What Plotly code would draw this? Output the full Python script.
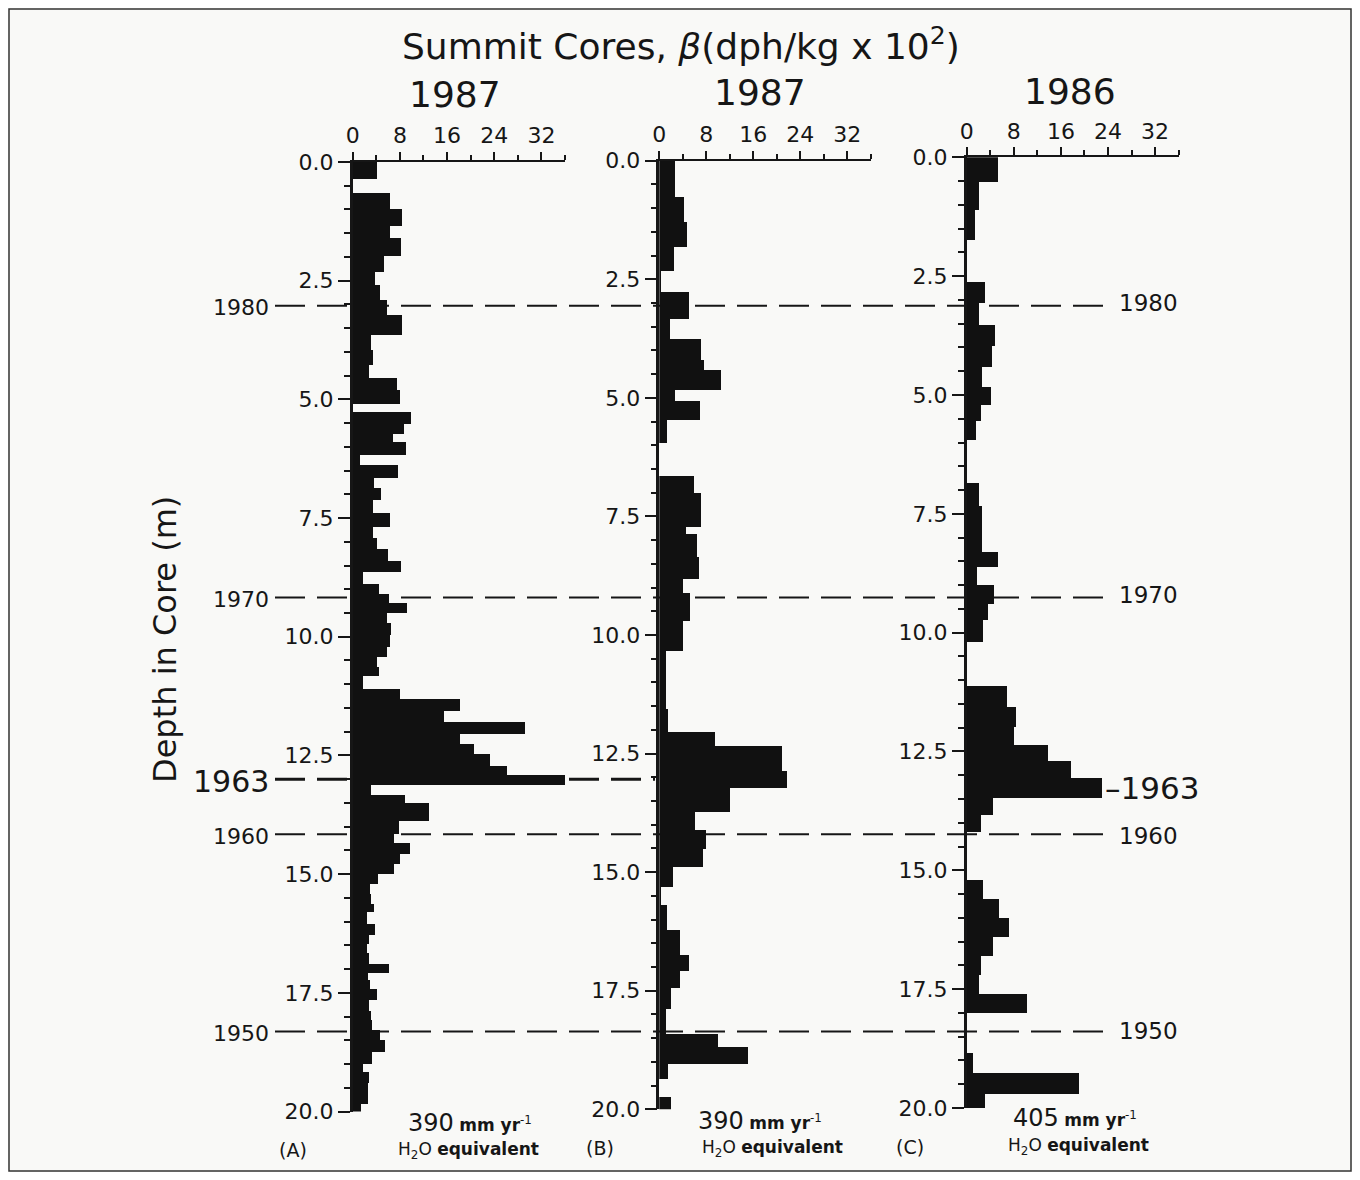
import plotly.graph_objects as go

# The page adds an 8px body margin, so the figure is drawn 8px in from the
# window edge; positions below are window pixels and are converted accordingly.
OFF = 8
W, H = 1360 - 2 * OFF, 1180 - 2 * OFF

# ---------------- data ----------------
core_titles = ["1987", "1987", "1986"]
panel_letters = ["(A)", "(B)", "(C)"]
accum_rates = ["390", "390", "405"]

# Core A: depth boundaries (m) and beta values (dph/kg x 10^2) for each interval
a_edges = [0.0, 0.35, 0.65, 1.0, 1.35, 1.6, 1.97, 2.31, 2.6, 2.91, 3.22, 3.65, 3.96, 4.28,
           4.54, 4.8, 5.1, 5.26, 5.51, 5.72, 5.9, 6.17, 6.39, 6.65, 6.86, 7.12, 7.4, 7.69,
           7.93, 8.16, 8.4, 8.63, 8.89, 9.09, 9.29, 9.5, 9.71, 9.97, 10.21, 10.43, 10.64,
           10.83, 11.09, 11.32, 11.56, 11.8, 12.04, 12.25, 12.48, 12.73, 12.92, 13.13,
           13.34, 13.5, 13.89, 14.15, 14.35, 14.57, 14.78, 14.99, 15.2, 15.41, 15.62, 15.8,
           16.05, 16.29, 16.48, 16.66, 16.89, 17.09, 17.24, 17.42, 17.65, 17.88, 18.08,
           18.28, 18.5, 18.75, 18.99, 19.17, 19.4, 19.66, 19.85, 20.0]
a_vals = [4.1, 0, 6.3, 8.3, 6.2, 8.2, 5.3, 3.7, 4.6, 5.8, 8.3, 3.1, 3.4, 2.7,
          7.4, 7.9, 0, 9.9, 8.6, 6.8, 9.0, 1.2, 7.6, 3.5, 4.8, 3.4, 6.2, 3.4,
          4.0, 6.0, 8.2, 1.7, 4.4, 6.1, 9.1, 5.7, 6.5, 6.3, 5.7, 4.1,
          4.4, 1.7, 8.0, 18.2, 15.4, 29.2, 18.1, 20.5, 23.3, 26.1, 36.0,
          3.1, 8.9, 12.9, 7.8, 6.9, 9.7, 7.9, 6.9, 4.2, 2.8, 3.1, 3.5,
          2.3, 3.8, 2.7, 2.3, 2.7, 6.1, 2.5, 2.8, 4.1, 2.7, 3.0,
          3.2, 4.6, 5.5, 3.2, 1.7, 2.7, 2.5, 2.5, 1.4]

# Core B
b_edges = [0.0, 0.76, 1.29, 1.81, 2.32, 2.76, 3.34, 3.76, 4.2, 4.4, 4.82, 5.07, 5.46,
           5.94, 6.64, 7.0, 7.72, 7.87, 8.34, 8.82, 9.1, 9.69, 10.33, 11.55, 12.04,
           12.34, 12.86, 13.21, 13.73, 14.1, 14.5, 14.89, 15.3, 15.69, 16.22, 16.75,
           17.07, 17.43, 17.87, 18.4, 18.68, 19.03, 19.35, 19.73, 20.0]
b_vals = [2.8, 4.2, 4.7, 2.6, 0.3, 5.1, 1.9, 7.2, 7.6, 10.6, 2.8, 6.9,
          1.4, 0, 5.9, 7.1, 4.6, 6.4, 6.8, 4.0, 5.3, 4.0, 1.2, 1.5,
          9.5, 20.9, 21.8, 12.1, 6.1, 8.0, 7.5, 2.3, 0.4, 1.4, 3.5,
          5.1, 3.6, 2.1, 1.2, 10.0, 15.1, 1.5, 0, 2.1]

# Core C
c_edges = [0.0, 0.53, 1.12, 1.74, 2.64, 3.07, 3.53, 3.97, 4.41, 4.83, 5.21, 5.55, 5.95,
           6.85, 7.34, 8.3, 8.62, 9.0, 9.4, 9.75, 10.2, 11.13, 11.57, 12.0, 12.38, 12.7,
           13.07, 13.49, 13.85, 14.2, 15.2, 15.6, 16.0, 16.4, 16.8, 17.2, 17.6, 18.0,
           18.84, 19.26, 19.72, 20.0]
c_vals = [5.3, 2.0, 1.4, 0, 3.1, 2.1, 4.8, 4.2, 2.5, 4.0, 2.3, 1.6,
          0, 2.1, 2.5, 5.2, 1.7, 4.6, 3.5, 2.8, 0, 6.8, 8.4, 7.9, 13.8,
          17.6, 23.0, 4.5, 2.3, 0, 2.8, 5.4, 7.1, 4.5, 2.3, 2.1, 10.2,
          0, 1.1, 19.0, 3.1]

# Dated horizons (year, depth in m)
horizon_years = ["1980", "1970", "1963", "1960", "1950"]
horizon_depths = [3.06, 9.21, 13.04, 14.2, 18.36]
# Labels on the right of core C
c_label_years = ["1980", "1970", "–1963", "1960", "1950"]
c_label_depths = [3.07, 9.21, 13.26, 14.27, 18.37]

x_tick0, x_dtick, x_max = 0, 8, 36
y_max = 20

# ---------------- layout geometry (window pixels) ----------------
panels_px = [
    dict(x0=352.7, x1=565.0, y0=162.0, y1=1111.5),
    dict(x0=659.3, x1=870.8, y0=160.7, y1=1109.3),
    dict(x0=966.7, x1=1178.6, y0=157.3, y1=1108.0),
]


def px(x):
    return (x - OFF) / W


def py(y):
    return 1 - (y - OFF) / H


FONT = "'DejaVu Sans', Verdana, sans-serif"
INK = "#161616"

fig = go.Figure()
layout = dict(
    template="none",
    width=W, height=H, margin=dict(l=0, r=0, t=0, b=0, pad=0, autoexpand=False),
    paper_bgcolor="#f9f9f7", plot_bgcolor="rgba(0,0,0,0)",
    showlegend=False, font=dict(family=FONT, color=INK),
    bargap=0,
)

cores = [(a_edges, a_vals), (b_edges, b_vals), (c_edges, c_vals)]
for i, ((edges, vals), g) in enumerate(zip(cores, panels_px)):
    sfx = "" if i == 0 else str(i + 1)
    xa, ya = "x" + sfx, "y" + sfx
    mids = [(edges[k] + edges[k + 1]) / 2 for k in range(len(vals))]
    widths = [edges[k + 1] - edges[k] for k in range(len(vals))]
    fig.add_trace(go.Bar(
        x=vals, y=mids, width=widths, orientation="h",
        marker=dict(color="#111111", line=dict(width=0)),
        xaxis=xa, yaxis=ya, hoverinfo="x+y",
    ))
    layout["xaxis" + sfx] = dict(
        domain=[px(g["x0"]), px(g["x1"])], range=[0, x_max], side="top",
        anchor=ya, tickmode="linear", tick0=x_tick0, dtick=x_dtick,
        ticks="outside", ticklen=8, tickwidth=1.5, tickcolor=INK,
        minor=dict(dtick=4, tick0=0, ticks="outside", ticklen=5, tickwidth=1.5, tickcolor=INK),
        showline=True, linewidth=2, linecolor=INK, showgrid=False, zeroline=False,
        tickfont=dict(size=22, color=INK), fixedrange=True, automargin=False,
    )
    layout["yaxis" + sfx] = dict(
        domain=[py(g["y1"]), py(g["y0"])], range=[y_max, 0], anchor=xa,
        tickmode="linear", tick0=0, dtick=2.5, tickformat=".1f",
        ticks="outside", ticklen=12, tickwidth=1.5, tickcolor=INK,
        minor=dict(dtick=0.5, ticks="outside", ticklen=6, tickwidth=1.5, tickcolor=INK),
        showline=True, linewidth=2.5, linecolor=INK, showgrid=False, zeroline=False,
        tickfont=dict(size=22, color=INK), fixedrange=True, automargin=False,
    )

shapes = []
annotations = []

# horizon dashed lines
for yr, d in zip(horizon_years, horizon_depths):
    x_end = 655 if yr == "1963" else 1114
    shapes.append(dict(
        type="line", xref="paper", yref="y2", x0=px(275), x1=px(x_end), y0=d, y1=d,
        line=dict(color=INK, width=3 if yr == "1963" else 2, dash="30px,12px"), layer="below",
    ))
    annotations.append(dict(
        text=yr, xref="paper", yref="y", x=px(271), y=d, xanchor="right", yanchor="middle",
        showarrow=False, font=dict(size=30 if yr == "1963" else 22, color=INK),
    ))

for yr, d in zip(c_label_years, c_label_depths):
    big = "1963" in yr
    annotations.append(dict(
        text=yr, xref="paper", yref="y3", x=px(1103 if big else 1117), y=d,
        xanchor="left", yanchor="middle", showarrow=False,
        font=dict(size=31 if big else 23, color=INK),
    ))

# title and core titles
annotations.append(dict(
    text="Summit Cores, <i>β</i>(dph/kg x 10<sup>2</sup>)", xref="paper", yref="paper",
    x=px(681), y=py(44), xanchor="center", yanchor="middle", showarrow=False,
    font=dict(size=36, color=INK),
))
title_pos = [(455, 95), (760, 93), (1070, 92)]
for t, (xx, yy) in zip(core_titles, title_pos):
    annotations.append(dict(
        text=t, xref="paper", yref="paper", x=px(xx), y=py(yy), xanchor="center",
        yanchor="middle", showarrow=False, font=dict(size=36, color=INK),
    ))

# y axis title
annotations.append(dict(
    text="Depth in Core (m)", xref="paper", yref="paper", x=px(165), y=py(640),
    textangle=-90, xanchor="center", yanchor="middle", showarrow=False,
    font=dict(size=32, color=INK),
))

# bottom labels
letter_pos = [(293, 1150), (600, 1148), (910, 1147)]
rate_pos = [(470, 1123), (760, 1121), (1075, 1118)]
eq_pos = [(468, 1150), (772, 1148), (1078, 1146)]
for let, rate, lp, rp, ep in zip(panel_letters, accum_rates, letter_pos, rate_pos, eq_pos):
    annotations.append(dict(
        text=let, xref="paper", yref="paper", x=px(lp[0]), y=py(lp[1]),
        xanchor="center", yanchor="middle", showarrow=False, font=dict(size=19, color=INK),
    ))
    annotations.append(dict(
        text=f"<span style='font-size:24px'>{rate}</span> <b>mm yr</b><sup>-1</sup>",
        xref="paper", yref="paper", x=px(rp[0]), y=py(rp[1]),
        xanchor="center", yanchor="middle", showarrow=False, font=dict(size=17, color=INK),
    ))
    annotations.append(dict(
        text="H<sub>2</sub>O <b>equivalent</b>", xref="paper", yref="paper",
        x=px(ep[0]), y=py(ep[1]), xanchor="center", yanchor="middle", showarrow=False,
        font=dict(size=17, color=INK),
    ))

# outer frame
shapes.append(dict(type="rect", xref="paper", yref="paper", x0=px(9), x1=px(1351),
                   y0=py(1171), y1=py(9), line=dict(color="#333", width=1.5)))

layout["shapes"] = shapes
layout["annotations"] = annotations
fig.update_layout(**layout)
fig.write_html("out.html")
